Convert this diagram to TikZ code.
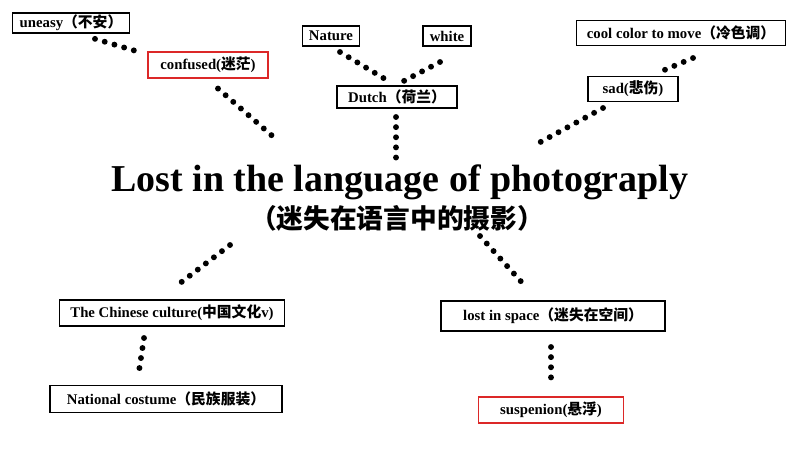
\documentclass[tikz,border=0pt]{standalone}
\usepackage{fontspec}
\setmainfont{Liberation Serif}
\newfontfamily\cjk{Noto Sans CJK SC}
\usetikzlibrary{arrows}
\definecolor{boxred}{RGB}{220,40,40}

\begin{document}
\begin{tikzpicture}[x=0.025cm, y=-0.025cm,
        box/.style={draw, line width=1.2pt, inner sep=0pt, font=\bfseries\fontsize{10.5}{13}\selectfont},
        redbox/.style={box, draw=boxred, line width=0.8pt},
        dots/.style={line width=4.2pt, line cap=round, dash pattern=on 0pt off 7.2pt}]
        \useasboundingbox (0, 0) rectangle (800, 450);

        \node [font=\bfseries\fontsize{27}{31}\selectfont] (title) at (400, 182) {Lost in the language of photograply};
        \node [font=\cjk\bfseries\fontsize{19}{22}\selectfont] (sub) at (397, 218) {（迷失在语言中的摄影）};

        \node [box, minimum width=2.93cm, minimum height=0.5cm] (uneasy) at (71, 23) {uneasy{\cjk（不安）}};
        \node [redbox, minimum width=3cm, minimum height=0.65cm] (confused) at (208, 65) {confused({\cjk 迷茫})};
        \node [box, minimum width=1.43cm, minimum height=0.5cm] (nature) at (331, 36) {Nature};
        \node [box, minimum width=1.2cm, minimum height=0.5cm] (white) at (447, 36) {white};
        \node [box, minimum width=3cm, minimum height=0.55cm] (dutch) at (397, 97) {Dutch{\cjk（荷兰）}};
        \node [box, minimum width=5.23cm, minimum height=0.63cm] (cool) at (681, 33) {cool color to move{\cjk（冷色调）}};
        \node [box, minimum width=2.25cm, minimum height=0.63cm] (sad) at (633, 89) {sad({\cjk 悲伤})};
        \node [box, minimum width=5.63cm, minimum height=0.65cm] (culture) at (172, 313) {The Chinese culture({\cjk 中国文化}v)};
        \node [box, minimum width=5.8cm, minimum height=0.68cm] (costume) at (166, 399) {National costume{\cjk（民族服装）}};
        \node [box, minimum width=5.6cm, minimum height=0.75cm] (space) at (553, 316) {lost in space{\cjk（迷失在空间）}};
        \node [redbox, minimum width=3.63cm, minimum height=0.65cm] (suspenion) at (551, 410) {suspenion({\cjk 悬浮})};

        \draw [dots] ([shift={(24, 5)}]uneasy.south) -- ([shift={(-10, 0)}]confused.north west);
        \draw [dots] ([shift={(10, 10)}]confused.south) -- ([shift={(-123, -42)}]title.center);
        \draw [dots] ([shift={(9, 16)}]nature.center) -- ([shift={(-7, -15)}]dutch.center);
        \draw [dots] ([shift={(-7, 26)}]white.center) -- ([shift={(3, -14)}]dutch.center);
        \draw [dots] ([shift={(-1, 20)}]dutch.center) -- ([shift={(-4, -20)}]title.center);
        \draw [dots] ([shift={(12, 25)}]cool.center) -- ([shift={(29, -18)}]sad.center);
        \draw [dots] ([shift={(-30, 19)}]sad.center) -- ([shift={(135, -37)}]title.center);
        \draw [dots] ([shift={(-167, 27)}]sub.center) -- ([shift={(3, -26)}]culture.center);
        \draw [dots] ([shift={(-28, 25)}]culture.center) -- ([shift={(-27, -28)}]costume.center);
        \draw [dots] ([shift={(83, 18)}]sub.center) -- ([shift={(-27, -29)}]space.center);
        \draw [dots] ([shift={(-2, 31)}]space.center) -- ([shift={(0, -30)}]suspenion.center);
    \end{tikzpicture}
\end{document}
